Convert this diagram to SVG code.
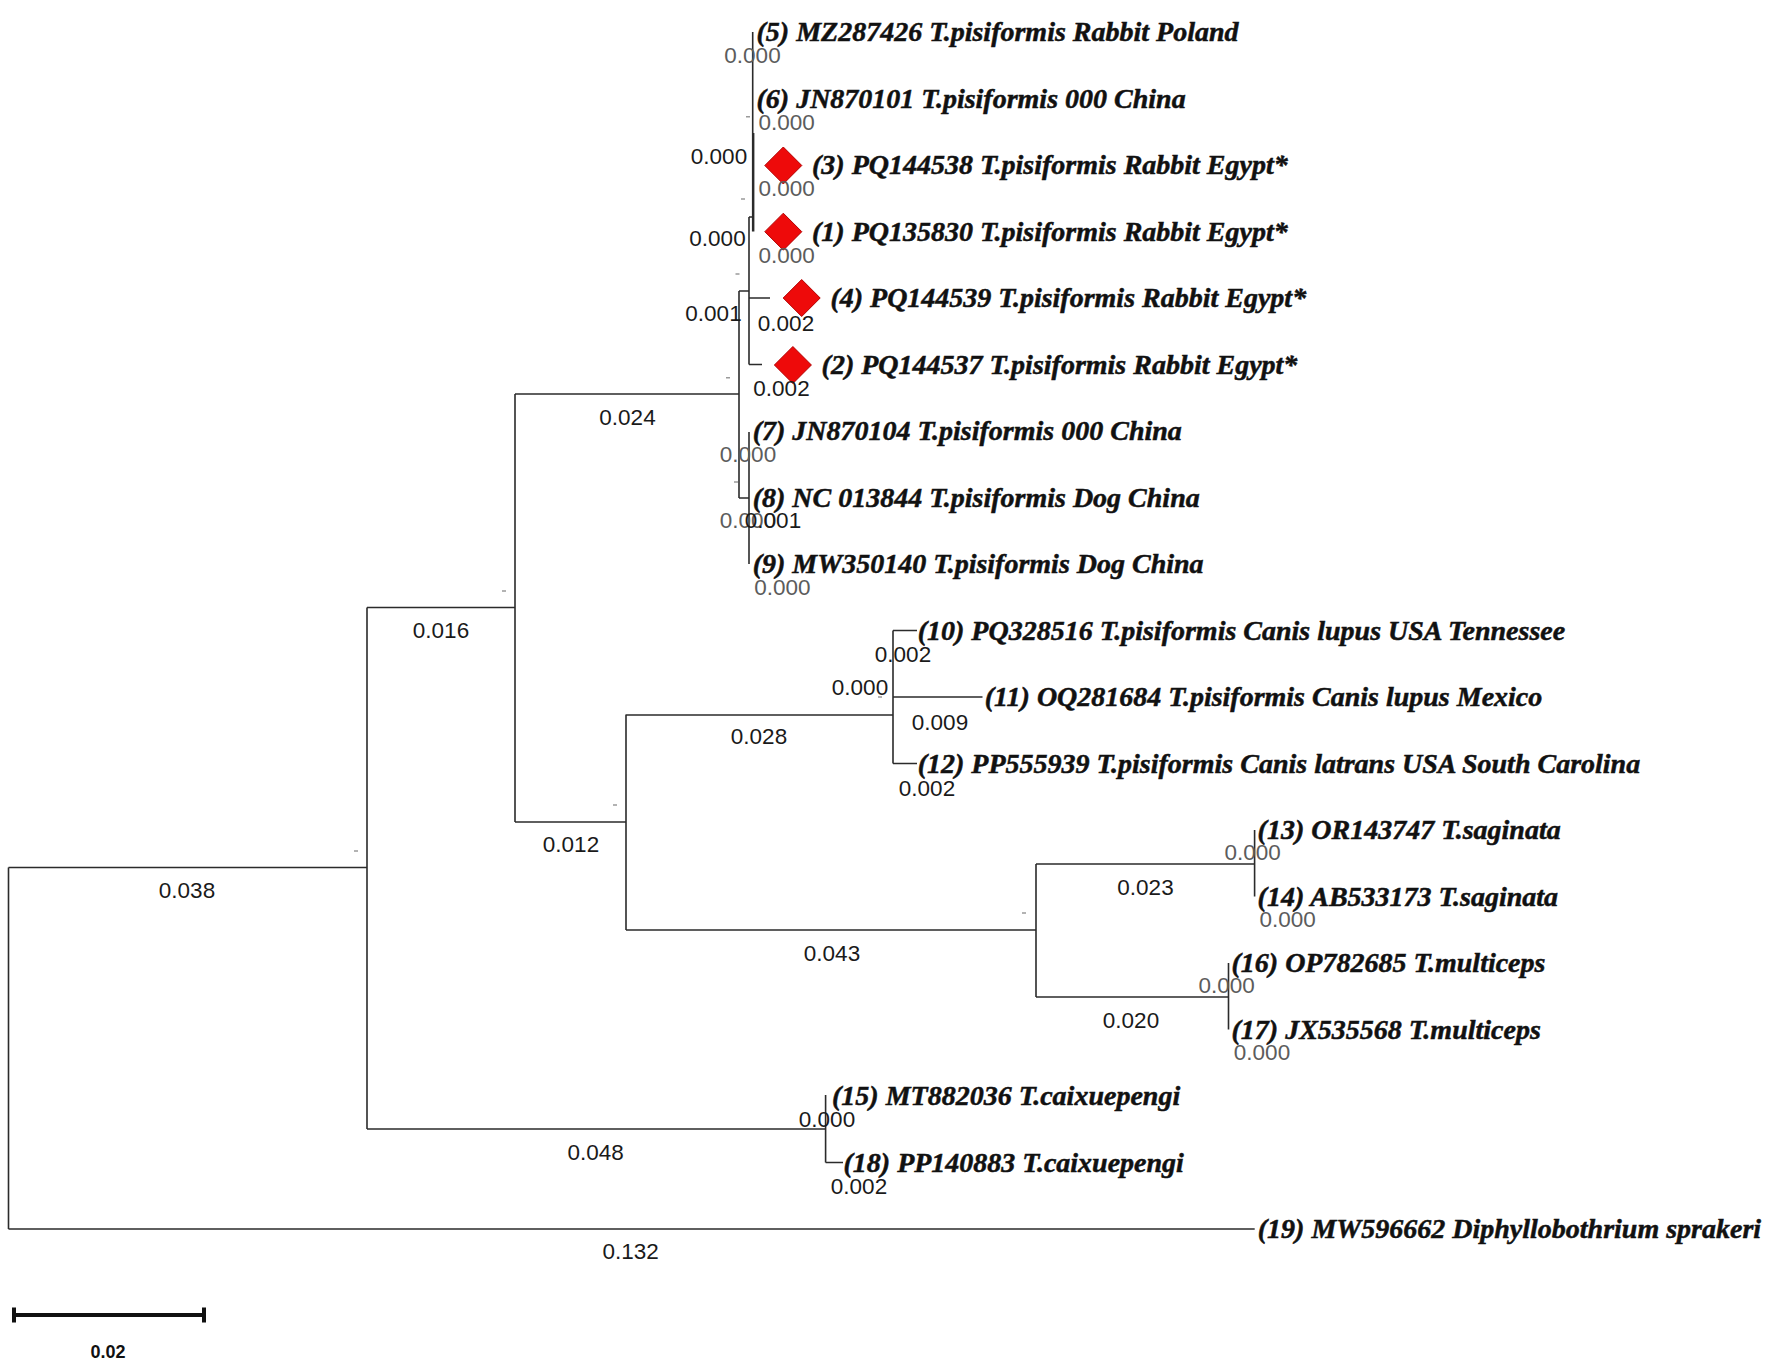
<svg xmlns="http://www.w3.org/2000/svg" width="1772" height="1367" viewBox="0 0 1772 1367">
<style>
.leaf{font-family:"Liberation Serif","Times New Roman",serif;font-size:28px;font-weight:bold;font-style:italic;fill:#111;stroke:#111;stroke-width:0.5}
.bl{font-family:"Liberation Sans",Arial,sans-serif;font-size:22.5px;fill:#1a1a1a;text-anchor:middle}
.g{fill:#5c5c5c}
.br{stroke:#2b2b2b;stroke-width:1.6;fill:none}
.tick{stroke:#9a9a9a;stroke-width:1.5}
.dia{fill:#ee0a0a;stroke:#b30000;stroke-width:1}
</style>
<defs>
<polygon id="diamond" class="dia" points="0,-18.5 18.5,0 0,18.5 -18.5,0"/>
</defs>
<rect width="1772" height="1367" fill="#fff"/>
<g id="connectors" class="br">
<path d="M8.5,867.5 V1229 M8.5,867.5 H367 M8.5,1229 H1254.7"/>
<path d="M367,607.5 V1129 M367,607.5 H515 M367,1129 H825.6"/>
<path d="M515,394 V822 M515,394 H739 M515,822 H626"/>
<path d="M739,291 V498 M739,291 H749 M739,498 H749"/>
<path d="M749,217 V364.5 M749,217 H752.7 M749,298 H770 M749,364.5 H762"/>
<path d="M752.7,32 V231.5 M753.6,133 V231.5"/>
<path d="M749,432 V564"/>
<path d="M626,714.6 V930 M626,715 H893 M626,930 H1036"/>
<path d="M893,630.5 V763.5 M893,630.5 H917 M893,697 H982.5 M893,763.5 H917"/>
<path d="M1036,864 V997 M1036,864 H1254.6 M1036,997 H1228.5"/>
<path d="M1254.6,830 V896.5 M1228.5,963 V1029.5"/>
<path d="M825.6,1095 V1162.5 M825.6,1162.5 H843"/>
</g>
<g id="ticks" class="tick">
<path d="M502,591 H506 M354,851 H358 M613,805 H617 M734,482 H738 M1022,913 H1026 M746,116.7 H750 M741,199 H745 M735.5,274 H739.5 M726,377.7 H730 M878,697 H882"/>
</g>
<g id="leaf5"><text class="leaf" x="756.5" y="41">(5) MZ287426 T.pisiformis Rabbit Poland</text></g>
<g id="leaf6"><text class="leaf" x="756.5" y="107.5">(6) JN870101 T.pisiformis 000 China</text></g>
<g id="leaf3"><use href="#diamond" x="783.3" y="165.5"/><text class="leaf" x="812" y="174">(3) PQ144538 T.pisiformis Rabbit Egypt*</text></g>
<g id="leaf1"><use href="#diamond" x="783.3" y="231.7"/><text class="leaf" x="812" y="240.5">(1) PQ135830 T.pisiformis Rabbit Egypt*</text></g>
<g id="leaf4"><use href="#diamond" x="801.7" y="298"/><text class="leaf" x="830.4" y="307">(4) PQ144539 T.pisiformis Rabbit Egypt*</text></g>
<g id="leaf2"><use href="#diamond" x="792.9" y="365"/><text class="leaf" x="821.6" y="373.5">(2) PQ144537 T.pisiformis Rabbit Egypt*</text></g>
<g id="leaf7"><text class="leaf" x="752.7" y="440">(7) JN870104 T.pisiformis 000 China</text></g>
<g id="leaf8"><text class="leaf" x="752.7" y="506.5">(8) NC 013844 T.pisiformis Dog China</text></g>
<g id="leaf9"><text class="leaf" x="752.7" y="573">(9) MW350140 T.pisiformis Dog China</text></g>
<g id="leaf10"><text class="leaf" x="917.7" y="639.5">(10) PQ328516 T.pisiformis Canis lupus USA Tennessee</text></g>
<g id="leaf11"><text class="leaf" x="984.8" y="706">(11) OQ281684 T.pisiformis Canis lupus Mexico</text></g>
<g id="leaf12"><text class="leaf" x="917.7" y="772.5">(12) PP555939 T.pisiformis Canis latrans USA South Carolina</text></g>
<g id="leaf13"><text class="leaf" x="1257.6" y="839">(13) OR143747 T.saginata</text></g>
<g id="leaf14"><text class="leaf" x="1257.6" y="905.5">(14) AB533173 T.saginata</text></g>
<g id="leaf16"><text class="leaf" x="1231.5" y="972">(16) OP782685 T.multiceps</text></g>
<g id="leaf17"><text class="leaf" x="1231.5" y="1038.5">(17) JX535568 T.multiceps</text></g>
<g id="leaf15"><text class="leaf" x="832" y="1105">(15) MT882036 T.caixuepengi</text></g>
<g id="leaf18"><text class="leaf" x="843.5" y="1171.5">(18) PP140883 T.caixuepengi</text></g>
<g id="leaf19"><text class="leaf" x="1257.8" y="1238">(19) MW596662 Diphyllobothrium sprakeri</text></g>
<g id="branch-lengths">
<text class="bl" x="187" y="898">0.038</text>
<text class="bl" x="441" y="637.5">0.016</text>
<text class="bl" x="627.5" y="425">0.024</text>
<text class="bl" x="571" y="852">0.012</text>
<text class="bl" x="759" y="744">0.028</text>
<text class="bl" x="832" y="960.5">0.043</text>
<text class="bl" x="1145.5" y="894.5">0.023</text>
<text class="bl" x="1131" y="1027.5">0.020</text>
<text class="bl" x="595.6" y="1159.5">0.048</text>
<text class="bl" x="630.6" y="1259">0.132</text>
<text class="bl" x="860" y="695">0.000</text>
<text class="bl" x="903" y="661.5">0.002</text>
<text class="bl" x="940" y="729.5">0.009</text>
<text class="bl" x="927" y="795.5">0.002</text>
<text class="bl" x="827" y="1127">0.000</text>
<text class="bl" x="859" y="1194">0.002</text>
<text class="bl g" x="752.5" y="63">0.000</text>
<text class="bl g" x="786.6" y="129.5">0.000</text>
<text class="bl" x="719" y="163.5">0.000</text>
<text class="bl g" x="786.6" y="196">0.000</text>
<text class="bl" x="717.5" y="246">0.000</text>
<text class="bl g" x="786.6" y="262.5">0.000</text>
<text class="bl" x="713.5" y="321">0.001</text>
<text class="bl" x="786" y="330.5">0.002</text>
<text class="bl" x="781.5" y="396">0.002</text>
<text class="bl g" x="748" y="461.5">0.000</text>
<text class="bl g" x="748" y="528">0.000</text>
<text class="bl" x="773" y="528">0.001</text>
<text class="bl g" x="782.4" y="594.5">0.000</text>
<text class="bl g" x="1252.6" y="860">0.000</text>
<text class="bl g" x="1287.6" y="927">0.000</text>
<text class="bl g" x="1226.6" y="993">0.000</text>
<text class="bl g" x="1262" y="1059.5">0.000</text>
</g>
<g id="scale-bar">
<path d="M14,1315 H204 M14,1307.5 V1322.5 M204,1307.5 V1322.5" stroke="#111" stroke-width="4" fill="none"/>
<text x="108" y="1358" font-family="'Liberation Sans',Arial,sans-serif" font-size="18" font-weight="bold" fill="#111" text-anchor="middle">0.02</text>
</g>
</svg>
